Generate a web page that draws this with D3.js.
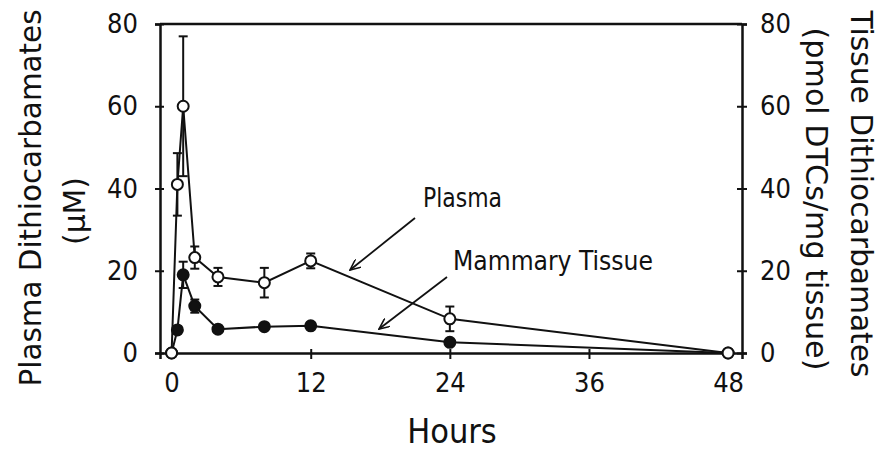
<!DOCTYPE html>
<html>
<head>
<meta charset="utf-8">
<script src="https://cdn.jsdelivr.net/npm/d3@7/dist/d3.min.js"></script>
<style>
  html, body { margin: 0; padding: 0; background: #fff; }
  svg { display: block; }
  text { font-family: "DejaVu Sans Condensed", "DejaVu Sans", sans-serif; fill: #111; }
</style>
</head>
<body>
<svg id="chart" width="884" height="450"></svg>
<script>
// Sampling times (hours)
const hours = [0, 0.5, 1, 2, 4, 8, 12, 24, 48];
// Plasma dithiocarbamates (µM) with SEM
const plasma    = [0, 41, 60, 23.2, 18.5, 17.1, 22.4, 8.3, 0];
const plasmaErr = [0, 7.6, 17, 2.7, 2.2, 3.6, 1.8, 3, 0];
// Mammary tissue dithiocarbamates (pmol DTCs/mg tissue) with SEM
const tissue    = [0, 5.6, 19, 11.4, 5.8, 6.4, 6.6, 2.6, 0];
const tissueErr = [0, 0.8, 3.2, 1.6, 0.5, 0.6, 0.6, 0.5, 0];
// Axis ticks
const xTicks = [0, 12, 24, 36, 48];
const yTicks = [0, 20, 40, 60, 80];

const ink = "#111";
const svg = d3.select("#chart");

const x = d3.scaleLinear().domain([-1, 49.2]).range([160, 742]);
const yL = d3.scaleLinear().domain([0, 80]).range([353, 24]);
const yR = d3.scaleLinear().domain([0, 80]).range([353, 24]);

// frame top edge
svg.append("line")
  .attr("x1", x.range()[0]).attr("x2", x.range()[1])
  .attr("y1", yL.range()[1]).attr("y2", yL.range()[1])
  .attr("stroke", ink).attr("stroke-width", 2.5);

// left axis
const gL = svg.append("g").attr("transform", `translate(${x.range()[0]},0)`)
  .call(d3.axisLeft(yL).tickValues(yTicks).tickSize(5).tickPadding(17).tickFormat(d3.format("d")));
gL.selectAll(".tick line").attr("x1", 4);

// right axis
const gR = svg.append("g").attr("transform", `translate(${x.range()[1]},0)`)
  .call(d3.axisRight(yR).tickValues(yTicks).tickSize(5).tickPadding(13).tickFormat(d3.format("d")));
gR.selectAll(".tick line").attr("x1", -5);

// bottom axis
const gB = svg.append("g").attr("transform", `translate(0,${yL.range()[0]})`)
  .call(d3.axisBottom(x).tickValues(xTicks).tickSize(6).tickPadding(14).tickFormat(d3.format("d")));
gB.selectAll(".tick line").attr("y1", -4);

[gL, gR, gB].forEach(g => {
  g.select(".domain").attr("stroke", ink).attr("stroke-width", 2.5);
  g.selectAll(".tick line").attr("stroke", ink).attr("stroke-width", 2);
  g.selectAll(".tick text").attr("font-size", 27).attr("fill", ink)
    .style("font-family", '"DejaVu Sans Condensed", "DejaVu Sans", sans-serif');
});

// axis titles
svg.append("text").attr("x", 452).attr("y", 443).attr("text-anchor", "middle")
  .attr("font-size", 34).text("Hours");

function title(tx, ty, rot, len, str) {
  svg.append("text").attr("transform", `translate(${tx},${ty}) rotate(${rot})`)
    .attr("text-anchor", "middle").attr("font-size", 31)
    .attr("textLength", len).attr("lengthAdjust", "spacingAndGlyphs").text(str);
}
title(41, 198, -90, 377, "Plasma Dithiocarbamates");
title(85, 211, -90, 68, "(\u00B5M)");
title(851, 194, 90, 367, "Tissue Dithiocarbamates");
title(806, 199, 90, 343, "(pmol DTCs/mg tissue)");

// series
const series = [
  { vals: tissue, err: tissueErr, scale: yR, fill: ink },
  { vals: plasma, err: plasmaErr, scale: yL, fill: "#fff" }
];

series.forEach(s => {
  const pts = hours.map((h, i) => ({ h, v: s.vals[i], e: s.err[i] }));
  svg.append("path").datum(pts)
    .attr("fill", "none").attr("stroke", ink).attr("stroke-width", 2)
    .attr("d", d3.line().x(d => x(d.h)).y(d => s.scale(d.v)));

  const eb = svg.append("g").attr("stroke", ink).attr("stroke-width", 2);
  pts.filter(d => d.e > 0).forEach(d => {
    const cx = x(d.h), y1 = s.scale(d.v + d.e), y2 = s.scale(d.v - d.e);
    eb.append("line").attr("x1", cx).attr("x2", cx).attr("y1", y1).attr("y2", y2);
    eb.append("line").attr("x1", cx - 4.5).attr("x2", cx + 4.5).attr("y1", y1).attr("y2", y1);
    eb.append("line").attr("x1", cx - 4.5).attr("x2", cx + 4.5).attr("y1", y2).attr("y2", y2);
  });

  svg.append("g").selectAll("circle").data(pts).join("circle")
    .attr("cx", d => x(d.h)).attr("cy", d => s.scale(d.v)).attr("r", 5.5)
    .attr("fill", s.fill).attr("stroke", ink).attr("stroke-width", 2);
});

// annotations
const defs = svg.append("defs");
defs.append("marker").attr("id", "arrow")
  .attr("viewBox", "0 0 12 10").attr("refX", 11).attr("refY", 5)
  .attr("markerWidth", 12).attr("markerHeight", 10).attr("markerUnits", "userSpaceOnUse")
  .attr("orient", "auto")
  .append("path").attr("d", "M0,0 L11,5 L0,10").attr("fill", "none")
  .attr("stroke", ink).attr("stroke-width", 1.6);

svg.append("line").attr("x1", 415).attr("y1", 218).attr("x2", 350).attr("y2", 270)
  .attr("stroke", ink).attr("stroke-width", 1.8).attr("marker-end", "url(#arrow)");
svg.append("line").attr("x1", 447).attr("y1", 277).attr("x2", 379).attr("y2", 329)
  .attr("stroke", ink).attr("stroke-width", 1.8).attr("marker-end", "url(#arrow)");

svg.append("text").attr("x", 423).attr("y", 207).attr("font-size", 26)
  .attr("textLength", 79).attr("lengthAdjust", "spacingAndGlyphs").text("Plasma");
svg.append("text").attr("x", 453).attr("y", 270).attr("font-size", 26)
  .attr("textLength", 200).attr("lengthAdjust", "spacingAndGlyphs").text("Mammary Tissue");
</script>
</body>
</html>
